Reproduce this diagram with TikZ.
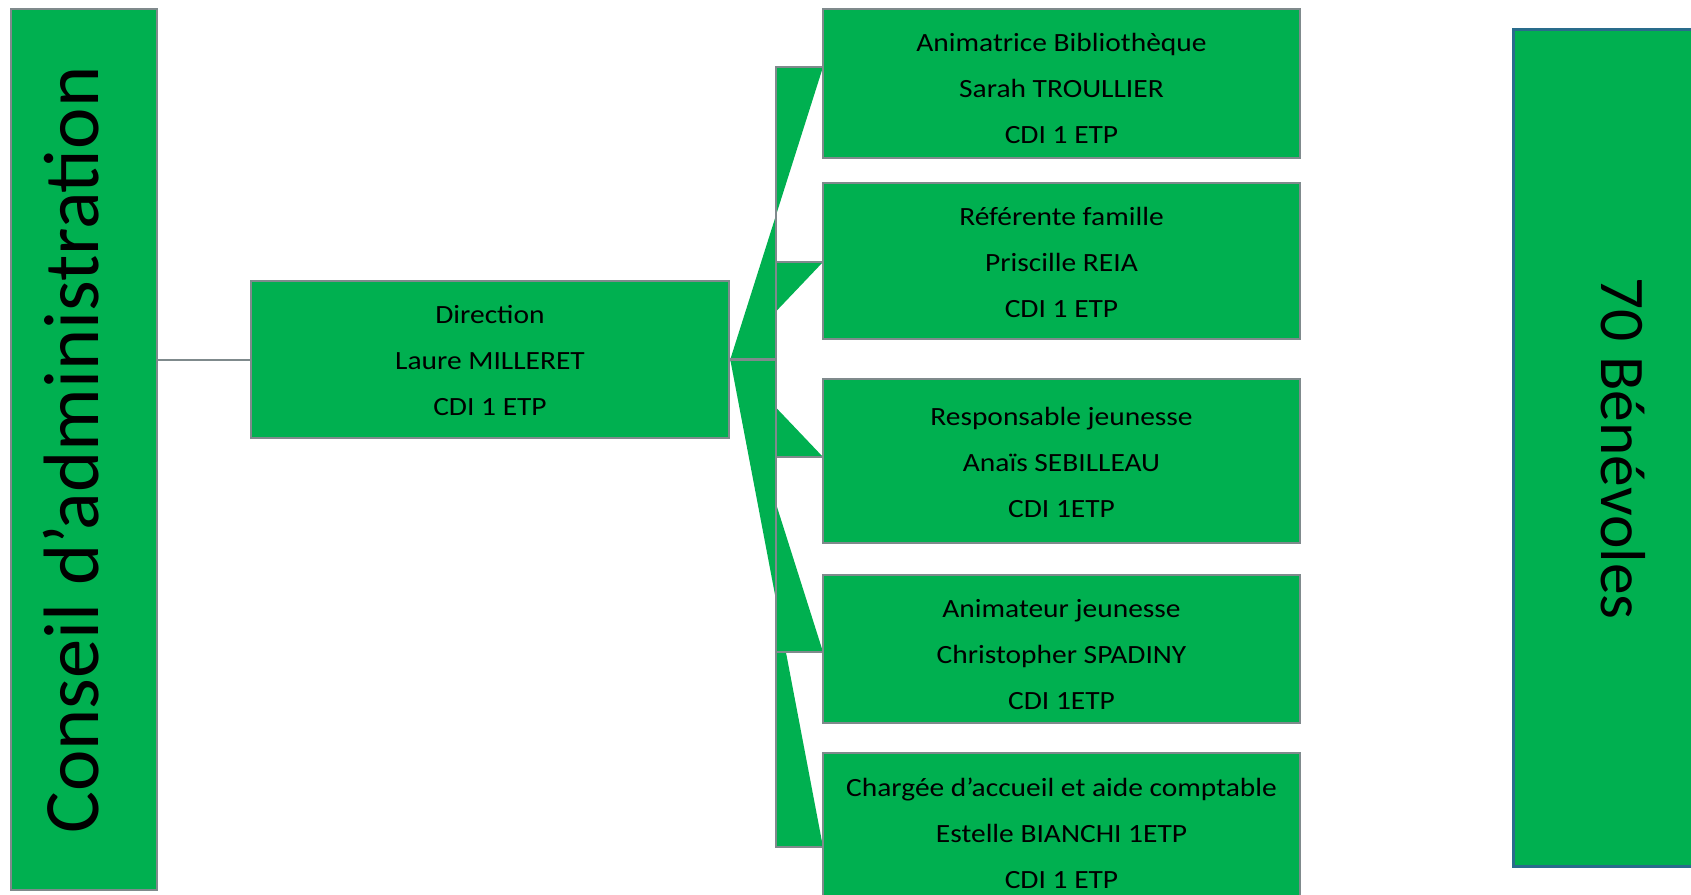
\documentclass[tikz,border=0pt]{standalone}
\usepackage{fontspec}
\setmainfont{Carlito}
\newfontfamily\boxfont{Carlito}[FakeStretch=1.12]
\usetikzlibrary{backgrounds}
\definecolor{ogreen}{RGB}{0,176,80}
\definecolor{ogray}{RGB}{127,138,140}
\definecolor{oblue}{RGB}{41,108,140}
\newcommand\lineup{\rule{0pt}{21pt}}
\newcommand\lineuphigh{\rule{0pt}{29pt}}
\begin{document}
\begin{tikzpicture}[x=1pt,y=-1pt,
  box/.style={draw=ogray, line width=2.5pt, fill=ogreen, inner sep=0pt, align=center,
    font=\boxfont\fontsize{26.3}{46}\selectfont},
  orgbox/.style={box, minimum width=477pt},
  conn/.style={draw=ogray, line width=2.5pt},
  lobe/.style={fill=ogreen}]
\useasboundingbox (0,0) rectangle (1691,894);
\clip (0,0) rectangle (1691,894);

% side boxes
\node[box, minimum width=146pt, minimum height=881pt] (cons) at (84,449.5) {};
\node[rotate=90, anchor=base, font=\fontsize{78.5}{90}\selectfont] (constext) at (98,450) {Conseil d’administration};

\node[draw=oblue, line width=3pt, fill=ogreen, inner sep=0pt, minimum width=217pt, minimum height=837pt] (ben) at (1621.5,447.5) {};
\node[rotate=-90, anchor=base, font=\fontsize{63.5}{75}\selectfont] (bentext) at (1601.7,448.5) {70 Bénévoles};

% direction
\node[box, minimum width=478pt, minimum height=157pt] (dir) at (490,359.5) {\lineup Direction\\Laure MILLERET\\CDI 1 ETP};

% staff
\node[orgbox, minimum height=149pt] (b1) at (1061.5,83.5) {\lineuphigh Animatrice Bibliothèque\\Sarah TROULLIER\\CDI 1 ETP};
\node[orgbox, minimum height=156pt] (b2) at (1061.5,261) {\lineup Référente famille\\Priscille REIA\\CDI 1 ETP};
\node[orgbox, minimum height=164pt] (b3) at (1061.5,461) {\lineup Responsable jeunesse\\Anaïs SEBILLEAU\\CDI 1ETP};
\node[orgbox, minimum height=148pt] (b4) at (1061.5,649) {\lineuphigh Animateur jeunesse\\Christopher SPADINY\\CDI 1ETP};
\node[orgbox, minimum height=158pt] (b5) at (1061.5,832) {\lineup Chargée d’accueil et aide comptable\\Estelle BIANCHI 1ETP\\CDI 1 ETP};

% connectors
\coordinate (j) at (776,359.5);
\coordinate (t1) at (823,67);
\coordinate (t2) at (823,262);
\coordinate (t3) at (823,457);
\coordinate (t4) at (823,652);
\coordinate (t5) at (823,847);
\begin{scope}[on background layer]
  \foreach \t in {t1,t2,t3,t4,t5}{
    \fill[lobe] (dir.east) -- (j) -- (j |- \t) -- (\t) -- cycle;
  }
  \foreach \t in {t1,t2,t3,t4,t5}{
    \draw[conn] (dir.east) -- (j) -- (j |- \t) -- (\t);
  }
  \draw[conn, line width=2pt] (cons.east |- dir.west) -- (dir.west);
\end{scope}
\end{tikzpicture}
\end{document}
